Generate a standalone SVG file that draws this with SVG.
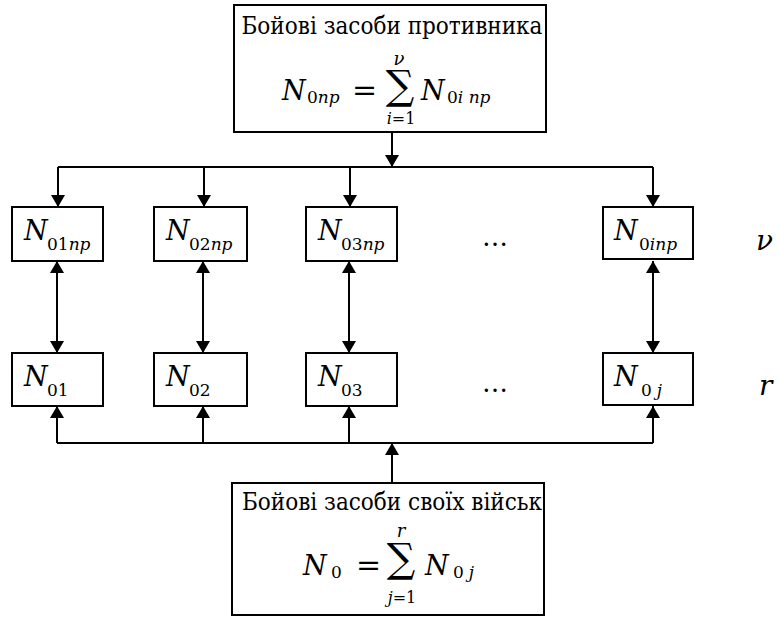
<svg xmlns="http://www.w3.org/2000/svg" width="779" height="617" viewBox="0 0 779 617">
<style>
.box{fill:#fff;stroke:#000;stroke-width:2}
.ln{fill:none;stroke:#000;stroke-width:2}
text{fill:#000;font-family:'DejaVu Serif','Liberation Serif',serif}
.i{font-style:italic}
.cond{font-family:'DejaVu Serif Condensed','DejaVu Serif',serif;font-stretch:condensed;font-size:24px}
.big{font-size:27px}
.sub{font-size:17px}
.sig{font-size:40px}
</style>
<defs>
<marker id="ah" viewBox="0 0 12 14" refX="12" refY="7" markerWidth="12" markerHeight="14" markerUnits="userSpaceOnUse" orient="auto">
<path d="M0,0 L12,7 L0,14 Z" fill="#000"/>
</marker>
<marker id="as" viewBox="0 0 12 14" refX="0" refY="7" markerWidth="12" markerHeight="14" markerUnits="userSpaceOnUse" orient="auto">
<path d="M12,0 L0,7 L12,14 Z" fill="#000"/>
</marker>
</defs>
<g id="connectors">
<path class="ln" d="M392,132 V167" marker-end="url(#ah)"/>
<path class="ln" d="M58,167 H653"/>
<path class="ln" d="M58,167 V207" marker-end="url(#ah)"/>
<path class="ln" d="M204,167 V207" marker-end="url(#ah)"/>
<path class="ln" d="M350,167 V207" marker-end="url(#ah)"/>
<path class="ln" d="M653,167 V207" marker-end="url(#ah)"/>
<path class="ln" d="M57,261 V353" marker-start="url(#as)" marker-end="url(#ah)"/>
<path class="ln" d="M203,261 V353" marker-start="url(#as)" marker-end="url(#ah)"/>
<path class="ln" d="M349,261 V353" marker-start="url(#as)" marker-end="url(#ah)"/>
<path class="ln" d="M653,261 V353" marker-start="url(#as)" marker-end="url(#ah)"/>
<path class="ln" d="M57,443 H653"/>
<path class="ln" d="M57,443 V406" marker-end="url(#ah)"/>
<path class="ln" d="M203,443 V406" marker-end="url(#ah)"/>
<path class="ln" d="M349,443 V406" marker-end="url(#ah)"/>
<path class="ln" d="M653,443 V406" marker-end="url(#ah)"/>
<path class="ln" d="M392,483 V443" marker-end="url(#ah)"/>
</g>
<g id="top">
<rect class="box" x="234" y="5" width="312" height="127"/>
<text class="cond" x="392" y="34" text-anchor="middle">Бойові засоби противника</text>
<text class="i big" x="282" y="100">N</text>
<text class="sub" x="307" y="103">0<tspan class="i">np</tspan></text>
<text x="352" y="100" font-size="30">=</text>
<text class="sig" x="400" y="99" text-anchor="middle">∑</text>
<text class="i" x="399" y="65" font-size="18" text-anchor="middle">ν</text>
<text x="401" y="124" font-size="16" text-anchor="middle"><tspan class="i">i</tspan>=1</text>
<text class="i big" x="421" y="100">N</text>
<text class="sub" x="447" y="103">0<tspan class="i">i np</tspan></text>
</g>
<g id="n01np">
<rect class="box" x="12" y="207" width="91" height="54"/>
<text class="i big" x="24" y="240">N</text>
<text class="sub" x="47" y="250">01<tspan class="i">np</tspan></text>
</g>
<g id="n02np">
<rect class="box" x="154" y="207" width="93" height="54"/>
<text class="i big" x="166" y="240">N</text>
<text class="sub" x="189" y="250">02<tspan class="i">np</tspan></text>
</g>
<g id="n03np">
<rect class="box" x="306" y="207" width="91" height="54"/>
<text class="i big" x="318" y="240">N</text>
<text class="sub" x="341" y="250">03<tspan class="i">np</tspan></text>
</g>
<g id="dots1"><text x="495" y="246" font-size="26" text-anchor="middle">…</text></g>
<g id="n0inp">
<rect class="box" x="603" y="207" width="90" height="52"/>
<text class="i big" x="614" y="240">N</text>
<text class="sub" x="639" y="250">0<tspan class="i">inp</tspan></text>
</g>
<g id="nu"><text class="i" x="756" y="250" font-size="28">ν</text></g>
<g id="n01">
<rect class="box" x="12" y="353" width="91" height="53"/>
<text class="i big" x="24" y="386">N</text>
<text class="sub" x="47" y="396">01</text>
</g>
<g id="n02">
<rect class="box" x="154" y="353" width="93" height="53"/>
<text class="i big" x="166" y="386">N</text>
<text class="sub" x="189" y="396">02</text>
</g>
<g id="n03">
<rect class="box" x="306" y="353" width="91" height="53"/>
<text class="i big" x="318" y="386">N</text>
<text class="sub" x="341" y="396">03</text>
</g>
<g id="dots2"><text x="495" y="392" font-size="26" text-anchor="middle">…</text></g>
<g id="n0j">
<rect class="box" x="603" y="353" width="90" height="52"/>
<text class="i big" x="614" y="386">N</text>
<text class="sub" x="641" y="396">0<tspan class="i" dx="5">j</tspan></text>
</g>
<g id="r"><text class="i" x="759" y="395" font-size="28">r</text></g>
<g id="bottom">
<rect class="box" x="232" y="483" width="312" height="132"/>
<text class="cond" x="392" y="510" text-anchor="middle">Бойові засоби своїх військ</text>
<text class="i big" x="303" y="575">N</text>
<text class="sub" x="331" y="578">0</text>
<text x="356" y="575" font-size="30">=</text>
<text class="sig" x="401" y="572" text-anchor="middle">∑</text>
<text class="i" x="401" y="537" font-size="18" text-anchor="middle">r</text>
<text x="402" y="603" font-size="16" text-anchor="middle"><tspan class="i">j</tspan>=1</text>
<text class="i big" x="425" y="575">N</text>
<text class="sub" x="453" y="578">0<tspan class="i" dx="5">j</tspan></text>
</g>
</svg>
